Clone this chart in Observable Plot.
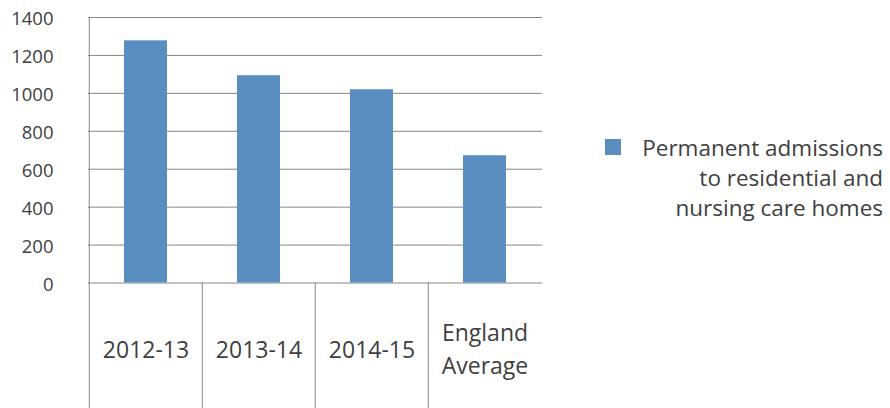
<!DOCTYPE html>
<html><head><meta charset="utf-8">
<script src="https://cdn.jsdelivr.net/npm/d3@7"></script>
<script src="https://cdn.jsdelivr.net/npm/@observablehq/plot@0.6"></script>
<style>
body{margin:0;background:#fff;}
#wrap{position:relative;width:890px;height:408px;font-family:"Open Sans",sans-serif;overflow:hidden;}
#legend{position:absolute;left:605px;top:133px;width:278px;height:100px;}
#legend .swatch{position:absolute;left:0;top:6px;width:16px;height:16px;}
#legend .label{position:absolute;right:0;top:0;text-align:right;font-size:22.5px;line-height:30px;color:#404040;white-space:pre;}
</style></head><body><div id="wrap"></div>
<script>
const categories = ["2012-13", "2013-14", "2014-15", "England Average"];
const categoryLabels = ["2012-13", "2013-14", "2014-15", "England\nAverage"];
const admissions = [1277, 1093, 1019, 671];
const yTicks = [0, 200, 400, 600, 800, 1000, 1200, 1400];
const legendLines = ["Permanent admissions", "to residential and", "nursing care homes"];

const barColor = "#5a8dc0";
const gridColor = "#868686";
const textColor = "#404040";

const data = categories.map((c, i) => ({category: c, label: categoryLabels[i], value: admissions[i]}));

const W = 890, H = 408, mL = 88, mR = 348, mT = 17, mB = 125.5;
const xs = Plot.scale({x: {type: "band", domain: categories, range: [mL, W - mR], paddingInner: 0.62, paddingOuter: 0.31}});
const step = xs.step;

const chart = Plot.plot({
  width: W, height: H,
  marginLeft: mL, marginRight: mR, marginTop: mT, marginBottom: mB,
  style: {fontFamily: "'Open Sans', sans-serif", background: "#fff", overflow: "visible"},
  x: {domain: categories, paddingInner: 0.62, paddingOuter: 0.31, axis: null},
  y: {domain: [0, 1400], axis: null},
  marks: [
    Plot.gridY(yTicks, {stroke: gridColor, strokeOpacity: 1, strokeWidth: 1}),
    Plot.barY(data, {x: "category", y: "value", fill: barColor}),
    Plot.axisY({ticks: yTicks, tickFormat: d => String(d), tickSize: 0, tickPadding: 35, fontSize: 18.5, color: textColor, dy: 2, label: null}),
    Plot.ruleX(categories.slice(0, 1), {x: d => d, dx: -step / 2, stroke: gridColor, strokeWidth: 1}),
    Plot.tickX(categories, {x: d => d, dx: -step / 2, stroke: gridColor, strokeWidth: 1, insetTop: H - mT - mB, insetBottom: -mB}),
    Plot.text(data, {x: "category", text: "label", frameAnchor: "bottom", dy: 64, lineAnchor: "middle", lineHeight: 1.45, fontSize: 23, fill: textColor})
  ]
});
document.getElementById("wrap").appendChild(chart);

const legend = document.createElement("div");
legend.id = "legend";
const sw = document.createElement("div");
sw.className = "swatch";
sw.style.background = barColor;
legend.appendChild(sw);
const lab = document.createElement("div");
lab.className = "label";
lab.textContent = legendLines.join("\n");
legend.appendChild(lab);
document.getElementById("wrap").appendChild(legend);
</script></body></html>
